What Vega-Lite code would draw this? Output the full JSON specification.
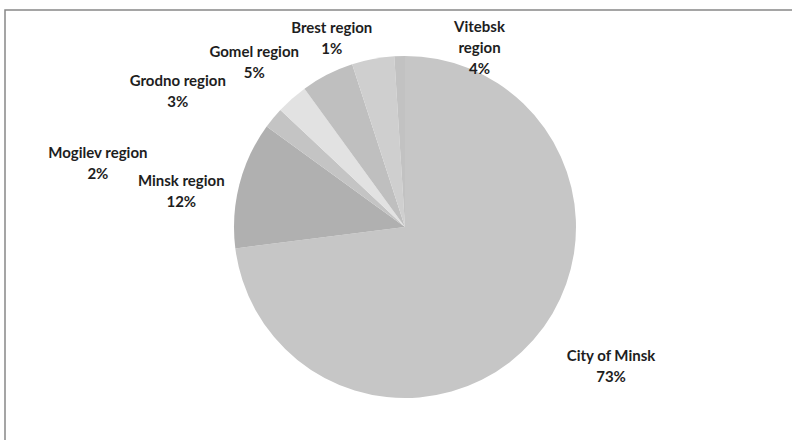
{
  "$schema": "https://vega.github.io/schema/vega-lite/v6.json",
  "width": 800,
  "height": 434,
  "autosize": "none",
  "padding": {"left": 5, "top": 10, "right": 0, "bottom": 0},
  "background": "white",
  "config": {
    "view": {"stroke": null},
    "text": {"font": "Lato"}
  },
  "data": {
    "values": [
      {"region": "City of Minsk", "value": 73},
      {"region": "Minsk region", "value": 12},
      {"region": "Mogilev region", "value": 2},
      {"region": "Grodno region", "value": 3},
      {"region": "Gomel region", "value": 5},
      {"region": "Vitebsk region", "value": 4},
      {"region": "Brest region", "value": 1}
    ]
  },
  "transform": [
    {"window": [{"op": "row_number", "as": "i"}]},
    {"calculate": "(datum.region == 'Vitebsk region' ? 'Vitebsk\\nregion' : datum.region) + '\\n' + datum.value + '%'", "as": "label"}
  ],
  "layer": [
    {
      "data": {"values": [{"frame": "border"}]},
      "transform": [],
      "mark": {"type": "rect", "fill": null, "stroke": "#888888", "strokeWidth": 1.5},
      "encoding": {
        "x": {"value": 0},
        "x2": {"value": "width"},
        "y": {"value": 0},
        "y2": {"value": "height"}
      }
    },
    {
      "mark": {"type": "arc", "outerRadius": 171},
      "encoding": {
        "theta": {"field": "value", "type": "quantitative", "stack": true},
        "order": {"field": "i", "type": "quantitative"},
        "color": {
          "field": "region",
          "type": "nominal",
          "legend": null,
          "scale": {
            "domain": ["City of Minsk", "Minsk region", "Mogilev region", "Grodno region", "Gomel region", "Vitebsk region", "Brest region"],
            "range": ["#c6c6c6", "#b0b0b0", "#c4c4c4", "#e2e2e2", "#bfbfbf", "#cfcfcf", "#c2c2c2"]
          }
        }
      }
    },
    {
      "mark": {
        "type": "text",
        "radius": 200,
        "fontSize": 15,
        "fontWeight": "bold",
        "lineHeight": 21,
        "lineBreak": "\n",
        "align": "center",
        "baseline": "middle",
        "color": "#1e1e1e",
        "dx": {"expr": "datum.region == 'City of Minsk' ? 56 : datum.region == 'Minsk region' ? -30 : datum.region == 'Mogilev region' ? -153 : datum.region == 'Grodno region' ? -95 : datum.region == 'Gomel region' ? -60 : datum.region == 'Vitebsk region' ? 112 : -67"},
        "dy": {"expr": "datum.region == 'City of Minsk' ? -3.5 : datum.region == 'Minsk region' ? 3.5 : datum.region == 'Mogilev region' ? 53.5 : datum.region == 'Grodno region' ? 4.5 : datum.region == 'Gomel region' ? 3.5 : datum.region == 'Vitebsk region' ? -3.5 : 0.5"}
      },
      "encoding": {
        "theta": {"field": "value", "type": "quantitative", "stack": true},
        "order": {"field": "i", "type": "quantitative"},
        "text": {"field": "label", "type": "nominal"}
      }
    }
  ]
}
